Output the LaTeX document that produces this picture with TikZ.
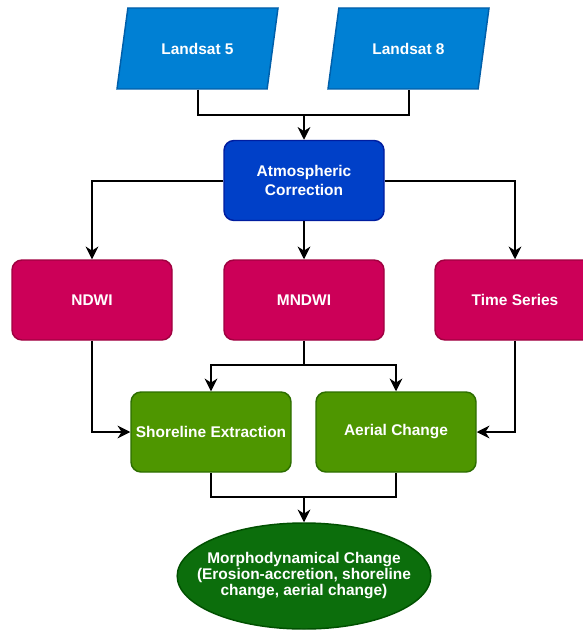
\documentclass[tikz,border=0pt]{standalone}
\usepackage{fontspec}
\setmainfont{Liberation Sans}
\usetikzlibrary{shapes.geometric}
\usetikzlibrary{arrows.meta}

\definecolor{landfill}{RGB}{0,128,212}
\definecolor{landdraw}{RGB}{0,95,170}
\definecolor{atmfill}{RGB}{0,64,200}
\definecolor{atmdraw}{RGB}{0,29,160}
\definecolor{idxfill}{RGB}{204,0,88}
\definecolor{idxdraw}{RGB}{160,0,64}
\definecolor{extfill}{RGB}{78,150,0}
\definecolor{extdraw}{RGB}{45,110,0}
\definecolor{morfill}{RGB}{12,110,12}
\definecolor{mordraw}{RGB}{0,80,0}

\begin{document}
\begin{tikzpicture}[x=0.75pt,y=0.75pt,yscale=-1,xscale=1,
  every node/.style={font=\fontsize{11.6}{14}\selectfont\bfseries, text=white},
  satbox/.style={trapezium, trapezium left angle=72.6, trapezium right angle=107.4, trapezium stretches=true,
    minimum width=121pt, minimum height=60.75pt, fill=landfill, draw=landdraw, line width=1.1pt},
  procbox/.style={rectangle, rounded corners=7.5pt, minimum width=120pt, minimum height=60pt, line width=1.1pt, align=center},
  flowline/.style={line width=1.5pt, draw=black},
  flowarrow/.style={flowline, -{Stealth[length=9.5pt,width=9.5pt,inset=3pt]}}]
\useasboundingbox (0,0) rectangle (582,631);

%Shape: Parallelogram
\draw (197.5,48.5) node [satbox] (l5) {Landsat 5};
%Shape: Parallelogram
\draw (408.5,48.5) node [satbox] (l8) {Landsat 8};

%Shape: Rounded Rect
\draw (304,180.5) node [procbox, fill=atmfill, draw=atmdraw, font=\fontsize{11.6}{14.3}\selectfont\bfseries] (atm) {Atmospheric\\Correction};

%Shape: Rounded Rect
\draw (92,300) node [procbox, fill=idxfill, draw=idxdraw] (ndwi) {NDWI};
\draw (304,300) node [procbox, fill=idxfill, draw=idxdraw] (mndwi) {MNDWI};
\draw (515,300) node [procbox, fill=idxfill, draw=idxdraw] (ts) {Time Series};

%Shape: Rounded Rect
\draw (211,432) node [procbox, fill=extfill, draw=extdraw] (shore) {Shoreline Extraction};
\draw (396,432) node [procbox, fill=extfill, draw=extdraw] (aer) {Aerial Change};

%Shape: Ellipse
\draw (304,576) node [ellipse, minimum width=187.5pt, minimum height=79.5pt, inner xsep=-13pt, inner ysep=0pt, fill=morfill, draw=mordraw, line width=1.1pt, align=center, font=\fontsize{11.6}{12}\selectfont\bfseries] (morph) {Morphodynamical Change\\(Erosion-accretion, shoreline\\change, aerial change)};

%Joins
\coordinate (topjoin) at (304,115);
\coordinate (split) at (304,365);
\coordinate (botjoin) at (304,497);

%Straight Lines
\draw [flowline] (l5.center |- l5.south) |- (topjoin) -| (l8.center |- l8.south);
\draw [flowarrow] (topjoin) -- (atm.north);

\draw [flowarrow] (atm.west) -| (ndwi.north);
\draw [flowarrow] (atm.south) -- (mndwi.north);
\draw [flowarrow] (atm.east) -| (ts.north);

\draw [flowline] (mndwi.south) -- (split);
\draw [flowarrow] (split) -| (shore.north);
\draw [flowarrow] (split) -| (aer.north);
\draw [flowarrow] (ndwi.south) |- (shore.west);
\draw [flowarrow] (ts.south) |- (aer.east);

\draw [flowline] (shore.south) |- (botjoin) -| (aer.south);
\draw [flowarrow] (botjoin) -- (morph.north);

\end{tikzpicture}
\end{document}
